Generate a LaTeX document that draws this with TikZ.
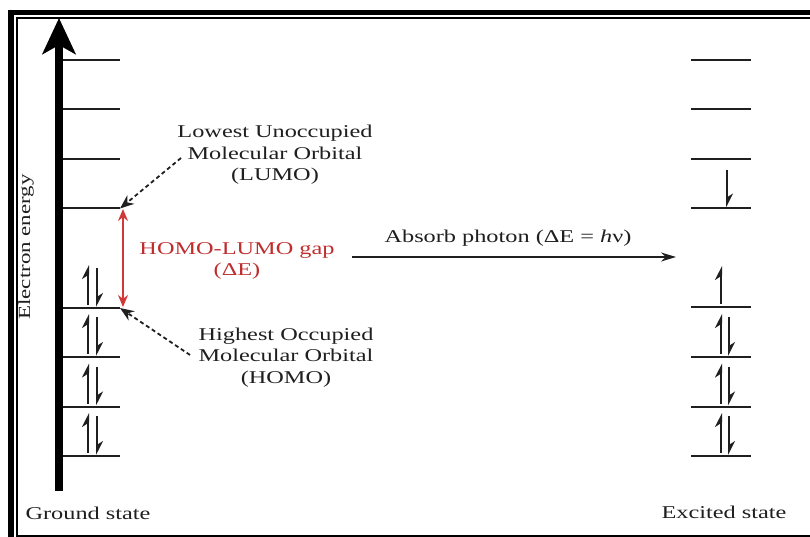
\documentclass[tikz,border=0pt]{standalone}
\usepackage{fontspec}
\setmainfont{Liberation Serif}
\usetikzlibrary{arrows.meta}
\newcommand\sx[1]{\scalebox{1.35}[1]{#1}}
\definecolor{ink}{rgb}{0.12,0.12,0.12}
\definecolor{gapred}{rgb}{0.82,0.22,0.22}
\definecolor{gaptext}{rgb}{0.75,0.18,0.18}
\begin{document}
\begin{tikzpicture}[x=1pt,y=-1pt,
  lvl/.style={line width=2pt, draw=ink},
  elec/.style={line width=2pt, draw=ink, -{Stealth[harpoon,length=12pt,width=12pt]}},
  lbl/.style={font=\fontsize{18}{21.5}\selectfont, text=ink, align=center, inner sep=0pt},
  dasharrow/.style={dash pattern=on 4pt off 3pt, line width=1.8pt, draw=ink, -{Stealth[length=14pt,width=11pt]}},
]
\useasboundingbox (0,0) rectangle (810,537);
\fill[white] (0,0) rectangle (810,537);
% frame
\draw[line width=6pt] (11,537) -- (11,10);
\draw[line width=5pt] (8,12.5) -- (810,12.5);
\draw[line width=2pt] (17,536) -- (17,17);
\draw[line width=2pt] (16,18) -- (810,18);
\draw[line width=2pt] (16,536) -- (810,536);
% energy axis
\coordinate (axb) at (59,491);
\coordinate (axt) at (59,18);
\draw[line width=8pt, -{Stealth[length=36pt,width=33pt,inset=9pt]}] (axb) -- (axt);
\node[lbl, rotate=90, font=\fontsize{17}{20}\selectfont] (energy) at (26,247) {\sx{Electron energy}};
% ground state levels
\foreach \y [count=\i] in {60,109.5,159,208.5,308,357,406.5,456} {
  \coordinate (ga\i) at (63,\y);
  \coordinate (gb\i) at (120,\y);
  \draw[lvl] (ga\i) -- (gb\i);
}
% excited state levels
\foreach \y [count=\i] in {60,109.5,159,208.5,307,357,406.5,456} {
  \coordinate (ea\i) at (691,\y);
  \coordinate (eb\i) at (751,\y);
  \draw[lvl] (ea\i) -- (eb\i);
}
% ground electrons
\foreach \y [count=\i] in {308,357,406.5,456} {
  \coordinate (gu\i a) at (88,\y-3);
  \coordinate (gu\i b) at (88,\y-43);
  \coordinate (gd\i a) at (97,\y-40);
  \coordinate (gd\i b) at (97,\y-1);
  \draw[elec] (gu\i a) -- (gu\i b);
  \draw[elec] (gd\i a) -- (gd\i b);
}
% excited electrons
\coordinate (el1) at (727,170);
\coordinate (el2) at (727,207.5);
\draw[elec] (el1) -- (el2);
\coordinate (eh1) at (721,304);
\coordinate (eh2) at (721,266);
\draw[elec] (eh1) -- (eh2);
\foreach \y [count=\i] in {357,406.5,456} {
  \coordinate (eu\i a) at (721,\y-3);
  \coordinate (eu\i b) at (721,\y-43);
  \coordinate (ed\i a) at (729,\y-40);
  \coordinate (ed\i b) at (729,\y-1);
  \draw[elec] (eu\i a) -- (eu\i b);
  \draw[elec] (ed\i a) -- (ed\i b);
}
% HOMO-LUMO gap
\coordinate (gaptop) at (123,209);
\coordinate (gapbot) at (123,307);
\draw[line width=1.5pt, draw=gapred, {Stealth[length=12pt,width=10pt]}-{Stealth[length=12pt,width=10pt]}] (gaptop) -- (gapbot);
\node[lbl, text=gaptext] (gap) at (237,261) {\sx{HOMO-LUMO gap}\\\sx{(ΔE)}};
% labels
\node[lbl] (lumo) at (275,155) {\sx{Lowest Unoccupied}\\\sx{Molecular Orbital}\\\sx{(LUMO)}};
\node[lbl] (homo) at (286,357.5) {\sx{Highest Occupied}\\\sx{Molecular Orbital}\\\sx{(HOMO)}};
\coordinate (lumostart) at (181,158);
\coordinate (homostart) at (190,355);
\draw[dasharrow] (lumostart) -- (gb4);
\draw[dasharrow] (homostart) -- (gb5);
% absorb photon
\coordinate (abs1) at (352,257);
\coordinate (abs2) at (676,257);
\draw[line width=1.6pt, draw=ink, -{Stealth[length=15pt,width=9pt]}] (abs1) -- (abs2);
\node[lbl] (absorb) at (508,238) {\sx{Absorb photon (ΔE = \textit{h}ν)}};
% state labels
\node[lbl] (ground) at (88,513) {\sx{Ground state}};
\node[lbl] (excited) at (724,512) {\sx{Excited state}};
\end{tikzpicture}
\end{document}
